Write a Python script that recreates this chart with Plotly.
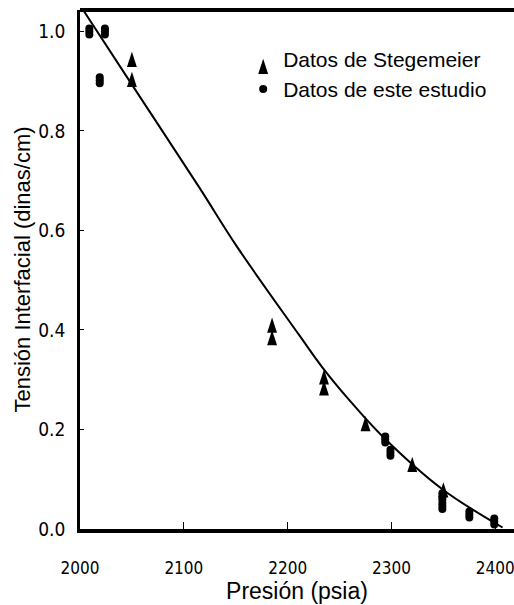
import plotly.graph_objects as go

# ---------------- data ----------------
pressure_ticks = [2000, 2100, 2200, 2300, 2400]
tension_ticks = [0.0, 0.2, 0.4, 0.6, 0.8, 1.0]

# Datos de Stegemeier (triangles)
stegemeier_p = [2050, 2050, 2185, 2185, 2235, 2235, 2275, 2320, 2350]
stegemeier_t = [0.944, 0.904, 0.410, 0.385, 0.306, 0.284, 0.212, 0.130, 0.079]

# Datos de este estudio (filled ellipses)
study_p = [2009, 2024, 2019, 2294, 2299, 2349, 2349, 2375, 2399]
study_t = [1.000, 1.000, 0.902, 0.180, 0.153, 0.066, 0.046, 0.029, 0.015]

# fitted curve, points
curve_p = [2004, 2050, 2115, 2151, 2211, 2233, 2259, 2291, 2349, 2407]
curve_t = [1.040, 0.893, 0.686, 0.568, 0.390, 0.326, 0.260, 0.187, 0.080, 0.003]

# ---------------- layout constants ----------------
FIG_W, FIG_H = 514, 605
M_L, M_R, M_T, M_B = 80, 0, 10, 76
X_RANGE = [2000, 2418]
Y_RANGE = [0, 1.043]
plot_h = FIG_H - M_T - M_B
t_per_px = (Y_RANGE[1] - Y_RANGE[0]) / plot_h

TRI_SIZE = 16          # 'arrow' symbol: ~10 px wide, ~15 px tall, tip at the point
TRI_SHIFT = 7.5 * t_per_px
ELL_SIZE = 8           # three stacked circles -> tall ellipse (8 x 14 px)
ELL_OFFSETS = [-3.0 * t_per_px, 0.0, 3.0 * t_per_px]

NARROW = "Liberation Sans Narrow, Arial Narrow, DejaVu Sans Condensed, sans-serif"
SANS = "Liberation Sans, Arial, sans-serif"
XTICK_FONT = dict(family=NARROW, size=17, color="black")
YTICK_FONT = dict(family=NARROW, size=19, color="black")
LEGEND_FONT = dict(family=SANS, size=21, color="black")

fig = go.Figure()

fig.add_trace(go.Scatter(
    x=curve_p, y=curve_t, mode="lines",
    line=dict(color="black", width=2, shape="spline", smoothing=1.0),
    showlegend=False, hoverinfo="skip"))

fig.add_trace(go.Scatter(
    x=stegemeier_p, y=[t + TRI_SHIFT for t in stegemeier_t], mode="markers",
    marker=dict(symbol="arrow", size=TRI_SIZE, color="black"),
    name="Datos de Stegemeier"))

for i, off in enumerate(ELL_OFFSETS):
    fig.add_trace(go.Scatter(
        x=study_p, y=[t + off for t in study_t], mode="markers",
        marker=dict(symbol="circle", size=ELL_SIZE, color="black"),
        name="Datos de este estudio", legendgroup="study", showlegend=(i == 1)))

fig.update_layout(
    width=FIG_W, height=FIG_H,
    margin=dict(l=M_L, r=M_R, t=M_T, b=M_B, autoexpand=False),
    paper_bgcolor="white", plot_bgcolor="white",
    font=LEGEND_FONT,
    showlegend=True,
    legend=dict(x=0.376, y=0.945, xanchor="left", yanchor="top",
                bgcolor="rgba(0,0,0,0)", font=LEGEND_FONT, tracegroupgap=0,
                itemsizing="trace"),
    xaxis=dict(range=X_RANGE, tickvals=pressure_ticks, ticktext=[str(v) for v in pressure_ticks],
               ticks="inside", ticklen=7, tickwidth=1, tickcolor="black",
               showline=True, linewidth=4, linecolor="black",
               showgrid=False, zeroline=False, tickfont=XTICK_FONT,
               ticklabelstandoff=21, ticklabeloverflow="allow",
               title=dict(text="Presión (psia)", font=dict(family=SANS, size=23, color="black"),
                          standoff=0)),
    yaxis=dict(range=Y_RANGE, tickvals=tension_ticks, tickformat=".1f",
               ticks="inside", ticklen=4, tickwidth=1, tickcolor="black",
               showline=True, linewidth=2.5, linecolor="black",
               showgrid=False, zeroline=False, tickfont=YTICK_FONT,
               ticklabelstandoff=8, ticklabeloverflow="allow",
               title=dict(text="Tensión Interfacial (dinas/cm)",
                          font=dict(family=SANS, size=22, color="black"), standoff=2)),
    shapes=[dict(type="line", xref="paper", yref="paper", x0=0, x1=1, y0=1, y1=1,
                 line=dict(color="black", width=4))],
)

fig.write_html("out.html", config={"displayModeBar": False},
               post_script="document.body.style.margin='0';document.body.style.overflow='hidden';")
